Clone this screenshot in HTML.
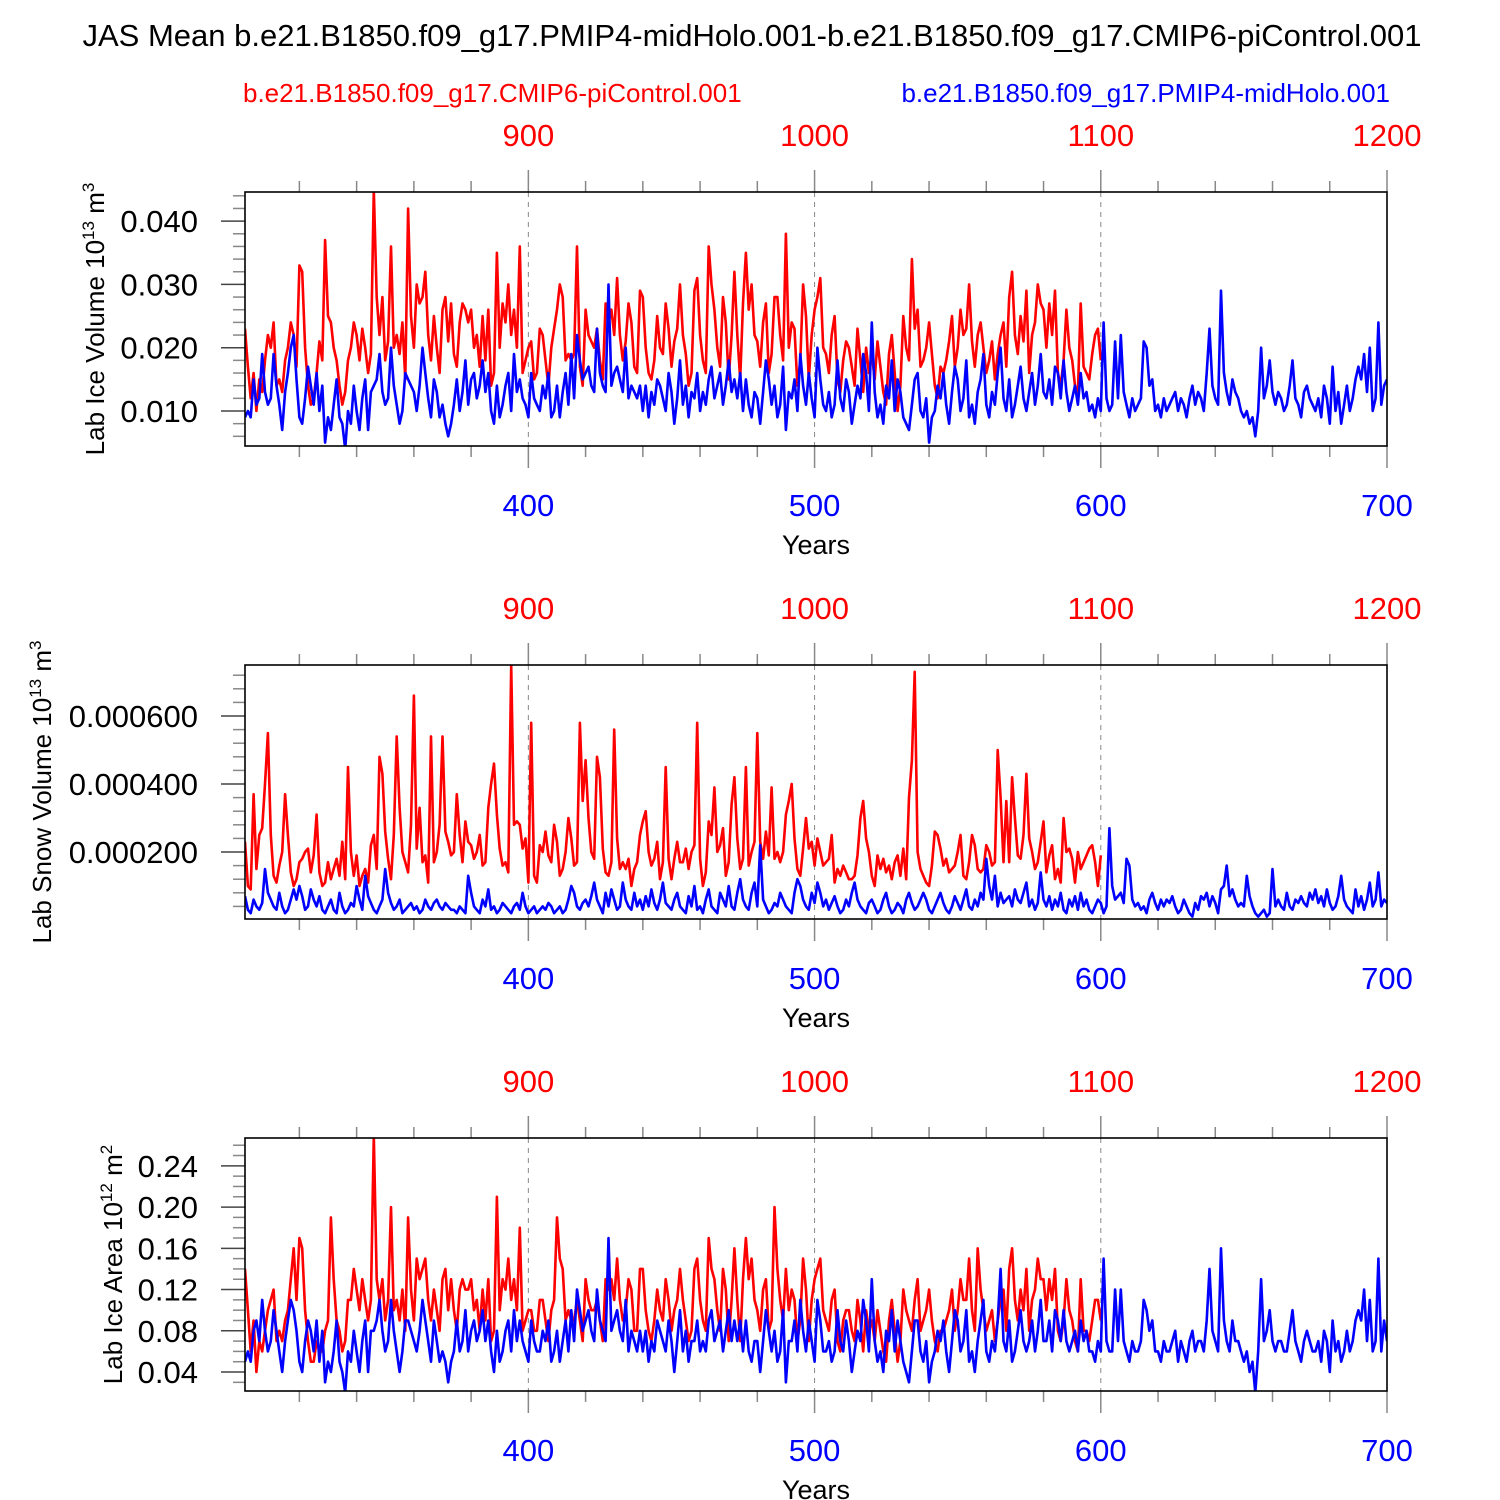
<!DOCTYPE html>
<html><head><meta charset="utf-8"><style>
html,body{margin:0;padding:0;background:#fff;}
svg{display:block;font-family:"Liberation Sans",Arial,sans-serif;}
</style></head><body>
<svg id="chart" width="1500" height="1500" viewBox="0 0 1500 1500" xmlns="http://www.w3.org/2000/svg">
<rect x="0" y="0" width="1500" height="1500" fill="#fff"/>
<text x="752" y="46" font-size="31" text-anchor="middle">JAS Mean b.e21.B1850.f09_g17.PMIP4-midHolo.001-b.e21.B1850.f09_g17.CMIP6-piControl.001</text>
<text x="243" y="102" font-size="26" fill="#ff0000">b.e21.B1850.f09_g17.CMIP6-piControl.001</text>
<text x="1390" y="102" font-size="26" fill="#0000ff" text-anchor="end">b.e21.B1850.f09_g17.PMIP4-midHolo.001</text>
</svg>
<script>
// Ice volume (units of 1e-3 ×1e13 m^3), blue years 301-700
const iceVolBlue=[9,10,9,15,11,12,19,13,11,12,19,14,11,7,13,16,20,22,15,9,
8,12,17,14,11,16,10,14,5,9,7,11,15,9,8,4,10,8,14,10,
7,12,15,7,13,14,15,19,13,11,12,20,14,11,8,10,16,15,14,13,
10,14,20,16,12,9,15,13,9,11,8,6,8,11,15,10,13,18,11,15,
16,12,14,18,13,16,10,8,14,9,11,14,16,10,19,13,15,12,11,9,
16,12,11,10,14,12,16,9,10,14,9,13,16,11,19,12,22,18,15,16,
17,14,13,23,16,14,13,30,14,16,17,15,13,20,12,14,13,12,14,10,
14,9,13,11,15,14,12,10,16,13,8,12,18,11,14,9,13,12,16,10,
13,11,15,17,12,14,16,11,14,18,13,15,12,16,10,15,11,9,13,12,
8,13,18,15,11,14,9,11,17,7,13,12,15,10,19,14,11,16,12,9,
20,15,11,10,13,9,11,18,12,10,15,13,8,11,14,12,19,16,10,24,
13,9,11,8,14,12,18,10,15,13,9,8,7,11,15,16,10,9,12,5,
9,10,14,12,16,11,8,13,17,15,10,12,18,9,11,8,13,15,19,11,
9,13,11,16,20,12,10,15,9,11,14,17,12,10,13,16,11,14,19,13,
12,15,11,17,16,12,18,13,10,12,14,11,16,12,13,10,11,9,12,10,
24,12,10,11,21,12,22,13,11,9,12,10,11,12,21,20,14,15,10,11,
9,12,10,11,12,13,10,12,11,9,12,14,11,13,12,10,16,23,14,12,
11,29,16,13,11,15,13,12,10,9,10,8,9,6,10,20,12,14,18,13,
11,13,12,10,11,14,18,12,11,9,13,14,12,11,10,12,9,14,12,8,
17,10,13,8,11,14,10,12,15,17,15,19,13,20,10,12,24,11,14,15];
// red years 801-1100
const iceVolRed=[23,17,12,16,10,15,13,18,22,20,24,14,15,13,18,20,24,22,17,33,
32,20,14,11,12,16,21,18,37,25,24,20,18,14,11,13,18,20,24,22,
18,23,20,16,19,45,28,22,28,18,21,36,20,22,19,24,15,42,25,20,
30,27,28,32,22,18,25,20,16,26,28,21,27,19,17,24,27,26,24,26,
20,22,17,25,18,26,14,16,35,20,27,24,30,22,26,20,36,16,18,20,
21,15,16,23,22,18,14,20,23,26,30,28,18,19,18,19,36,17,14,26,
22,21,20,23,18,15,27,24,26,22,31,22,18,21,27,24,17,16,29,28,
20,16,15,18,25,20,19,27,23,17,21,23,30,22,19,14,16,29,31,22,
18,16,36,30,26,20,17,28,24,15,22,32,22,15,27,35,26,30,22,21,
17,24,27,16,19,28,28,22,18,38,20,24,23,14,18,30,25,15,22,26,
28,31,20,19,16,22,25,15,13,18,21,20,17,14,23,18,13,20,16,19,
15,21,17,13,11,19,22,16,10,14,25,20,18,34,23,26,17,18,20,24,
19,14,12,17,16,18,21,25,17,20,26,22,23,30,21,17,22,24,20,16,
18,21,15,19,22,24,17,28,32,22,19,25,21,29,16,22,24,30,27,26,
20,27,22,29,16,14,18,26,20,18,14,13,27,17,16,15,19,22,23,18];
// Snow volume (units of 1e-6 ×1e13 m^3)
const snowVolBlue=[70,30,20,60,40,30,50,150,80,60,40,30,80,40,20,30,60,90,60,100,
70,30,40,90,60,40,70,30,20,40,60,30,20,80,40,20,30,50,40,100,
60,30,130,70,50,30,20,40,60,150,80,50,30,40,60,20,30,40,50,30,
40,20,30,60,40,30,50,60,40,30,50,40,30,30,20,40,30,20,130,80,
40,30,20,60,40,90,30,40,20,30,50,40,30,20,40,50,30,80,40,20,
30,40,20,30,40,30,50,40,20,30,40,20,30,60,100,80,40,30,50,60,
40,70,110,60,40,20,80,40,90,60,30,40,110,60,40,30,80,40,60,30,
70,40,90,50,30,60,110,50,40,30,60,80,40,30,20,70,40,100,30,40,
20,60,90,40,30,20,80,60,40,100,40,30,80,120,60,40,30,80,110,40,
220,60,40,20,30,50,40,80,60,40,30,20,80,120,100,60,40,30,80,50,
110,80,40,60,30,50,70,40,20,30,60,40,80,110,60,40,30,20,50,60,
40,20,30,60,80,40,20,30,50,40,20,60,80,50,30,40,60,80,60,30,
20,40,60,80,50,30,20,40,70,50,30,60,90,40,30,60,40,80,60,180,
100,60,130,40,80,50,60,70,40,90,60,50,80,110,40,60,30,50,140,60,
40,70,30,60,40,80,30,20,60,40,70,30,80,40,60,30,20,40,60,50,
20,40,270,100,60,70,80,50,180,160,60,40,50,30,40,20,60,80,50,30,
60,40,60,50,70,40,20,30,60,40,20,10,50,30,70,60,80,40,70,50,
20,90,100,160,70,90,60,40,50,40,130,70,40,20,10,20,30,10,20,150,
40,60,40,30,80,40,30,60,50,70,50,40,80,60,90,50,70,40,90,50,
30,40,70,130,60,40,30,20,90,40,70,30,60,110,40,60,140,40,60,50];
const snowVolRed=[230,100,90,370,150,250,270,400,550,250,130,110,160,200,370,250,140,100,120,170,
180,200,210,140,190,310,140,100,110,170,120,150,180,130,230,120,450,200,130,190,
100,130,150,110,220,250,150,480,430,260,180,120,250,540,330,200,170,140,280,660,
210,330,170,190,110,540,170,200,280,540,260,230,190,200,370,250,170,290,230,220,
180,200,250,160,170,330,400,460,310,210,160,170,140,750,280,290,280,210,240,110,
580,130,110,220,200,260,190,170,280,230,130,150,200,300,240,160,170,580,350,470,
300,200,180,480,420,210,140,130,170,560,240,150,170,150,180,100,150,170,250,290,
320,200,160,180,230,120,170,450,180,120,180,230,170,170,210,150,200,220,580,180,
100,140,290,250,390,200,220,270,130,170,340,420,240,150,180,450,160,200,230,550,
230,180,260,190,390,180,200,170,200,310,350,400,240,150,130,210,300,210,230,160,
240,200,160,170,180,250,110,150,130,160,140,120,120,130,190,300,350,240,200,130,
100,190,150,180,140,160,120,170,190,130,210,120,360,470,730,200,150,130,110,100,
160,260,250,210,160,180,140,150,160,200,250,130,120,170,250,220,150,140,150,220,
200,160,170,500,360,170,350,170,420,300,190,180,250,430,240,200,150,170,230,290,
140,190,220,120,150,110,300,200,210,180,110,200,150,170,190,210,220,170,100,190];
// Ice area (units of 1e-2 ×1e12 m^2)
const iceAreaBlue=[5,6,5,8,9,7,11,8,6,7,10,8,6,4,7,9,11,10,8,5,
4,7,9,8,6,9,5,8,3,5,4,6,9,5,4,2,6,5,8,6,
4,7,9,4,8,8,9,11,8,6,7,11,8,6,4,6,9,9,8,7,
6,8,11,9,7,5,9,7,5,6,5,3,5,6,9,6,7,10,6,8,
9,7,8,10,7,9,6,4,8,5,6,8,9,6,10,7,9,7,6,5,
9,7,6,6,8,7,9,5,6,8,5,7,9,6,10,7,12,10,8,9,
10,8,7,12,9,8,7,17,8,9,10,8,7,11,6,8,7,6,8,6,
8,5,7,6,9,8,7,6,9,7,4,7,10,6,8,5,7,7,9,6,
7,6,9,10,7,8,9,6,8,10,7,9,7,9,6,9,6,5,7,7,
4,7,10,8,6,8,5,6,10,3,7,7,9,6,11,8,6,9,7,5,
11,9,6,6,7,5,6,10,7,6,9,7,4,6,8,7,11,9,6,13,
7,5,6,4,8,7,10,6,9,7,5,4,3,6,9,9,6,5,7,3,
5,6,8,7,9,6,4,7,10,9,6,7,10,5,6,4,7,9,11,6,
5,7,6,9,14,7,6,9,5,6,8,10,7,6,7,9,6,8,11,7,
7,9,6,10,9,7,10,7,6,7,8,6,9,7,8,6,6,5,7,6,
15,7,6,6,12,7,12,7,6,5,7,6,6,7,11,10,8,9,6,6,
5,7,6,6,7,8,5,7,6,5,7,8,6,7,7,6,9,14,8,7,
6,16,9,7,6,9,7,7,6,5,6,4,5,2,6,13,7,8,10,7,
6,7,7,6,6,8,10,7,6,5,7,8,7,6,6,7,5,8,7,4,
9,6,7,5,6,8,6,7,9,10,9,12,7,11,6,7,15,6,9,7];
const iceAreaRed=[14,10,6,9,4,7,6,8,10,11,12,7,8,7,9,10,13,16,11,17,
16,10,7,5,5,7,6,6,8,9,19,13,9,8,6,7,11,11,14,12,
10,13,11,9,11,27,13,11,13,9,11,20,10,11,9,12,8,19,12,9,
15,13,14,15,11,9,12,10,8,13,14,10,13,10,8,12,13,12,12,13,
10,11,8,12,9,13,7,8,21,10,13,12,15,11,13,10,18,8,9,10,
10,8,8,11,11,9,7,10,11,19,15,14,9,10,9,9,11,9,7,13,
11,10,10,11,9,7,13,12,13,11,15,11,9,10,13,12,8,8,14,14,
10,8,7,9,12,10,9,13,11,8,10,11,14,11,9,7,8,14,15,11,
9,8,17,14,13,10,8,14,12,7,11,16,11,7,13,17,13,15,11,10,
8,12,13,8,9,20,14,11,9,14,10,12,11,7,9,15,12,7,11,13,
14,15,10,9,8,11,12,7,6,9,10,10,8,7,11,9,6,10,8,9,
7,10,8,6,5,9,11,8,5,7,12,10,9,8,11,13,8,9,10,12,
9,7,6,8,8,9,10,12,8,10,13,11,11,15,10,8,16,12,10,8,
9,10,7,9,11,12,8,14,16,11,9,12,10,14,8,11,12,15,13,13,
10,13,11,14,8,7,9,13,10,9,7,6,13,8,8,7,9,11,11,9];
const bottomTickLabels=["400","500","600","700"];
const topTickLabels=["900","1000","1100","1200"];
const iceVolTicks=["0.010","0.020","0.030","0.040"];
const snowVolTicks=["0.000200","0.000400","0.000600"];
const iceAreaTicks=["0.04","0.08","0.12","0.16","0.20","0.24"];

const NS="http://www.w3.org/2000/svg";
const svg=document.getElementById('chart');
const X0=245,X1=1387,B0=301,B1=700;
function xBlue(y){return X0+(y-B0)*(X1-X0)/(B1-B0);}
function xRed(y){return xBlue(y-500);}
function mk(tag,attrs,parent){const e=document.createElementNS(NS,tag);for(const k in attrs)e.setAttribute(k,attrs[k]);(parent||svg).appendChild(e);return e;}

function panel(idx,top,bot,yMin,yMax,scale,ticks,minor,blue,red,titleX,titleParts,name){
  const g=mk('g',{});
  
  
  const yS=v=>bot-(v-yMin)/(yMax-yMin)*(bot-top);
  const cp=mk('clipPath',{id:'clip'+idx},g);
  mk('rect',{x:X0,y:top,width:X1-X0,height:bot-top},cp);
  [400,500,600].forEach(v=>{
    const l=mk('line',{x1:xBlue(v),x2:xBlue(v),y1:top,y2:bot,stroke:'#888','stroke-width':1,'stroke-dasharray':'5,5'},g);
    
    
  });
  for(let v=Math.ceil(yMin/minor-1e-9)*minor;v<=yMax+1e-12;v+=minor){
    const isMaj=ticks.some(t=>Math.abs(parseFloat(t)-v)<minor/10);
    const y=yS(v);
    mk('line',{x1:X0-(isMaj?24:12),x2:X0,y1:y,y2:y,stroke:isMaj?'#444':'#888','stroke-width':1.5},g);
  }
  ticks.forEach(t=>{
    const y=yS(parseFloat(t));
    const tx=mk('text',{x:198,y:y+11,'font-size':31,'text-anchor':'end'},g);
    tx.textContent=t;
    
    
  });
  for(let v=320;v<=700;v+=20){
    const maj=v%100===0;const x=xBlue(v);
    mk('line',{x1:x,x2:x,y1:bot,y2:bot+(maj?22:11),stroke:'#888','stroke-width':1.5},g);
    mk('line',{x1:x,x2:x,y1:top,y2:top-(maj?22:11),stroke:'#888','stroke-width':1.5},g);
  }
  bottomTickLabels.forEach(t=>{
    const tx=mk('text',{x:xBlue(+t),y:bot+70,'font-size':31,'text-anchor':'middle',fill:'#0000ff'},g);
    tx.textContent=t;
    
    
  });
  topTickLabels.forEach(t=>{
    const tx=mk('text',{x:xRed(+t),y:top-46,'font-size':31,'text-anchor':'middle',fill:'#ff0000'},g);
    tx.textContent=t;
    
    
  });
  const xt=mk('text',{x:816,y:bot+108,'font-size':27,'text-anchor':'middle'},g);
  xt.textContent='Years';
  
  
  const cy=(top+bot)/2;
  const yt=mk('text',{transform:`translate(${titleX},${cy}) rotate(-90)`,'font-size':26,'text-anchor':'middle'},g);
  
  
  titleParts.forEach(p=>{const s=mk('tspan',p[1]?{'font-size':17,dy:-10}:{'font-size':26,dy:p[2]||0},yt);s.textContent=p[0];});
  const lg=mk('g',{'clip-path':`url(#clip${idx})`},g);
  let d='';red.forEach((v,i)=>{d+=(i?'L':'M')+xRed(801+i).toFixed(1)+','+yS(v*scale).toFixed(1);});
  const rp=mk('path',{d:d,fill:'none',stroke:'#ff0000','stroke-width':2.6,'stroke-linejoin':'round'},lg);
  
  
  d='';blue.forEach((v,i)=>{d+=(i?'L':'M')+xBlue(301+i).toFixed(1)+','+yS(v*scale).toFixed(1);});
  const bp=mk('path',{d:d,fill:'none',stroke:'#0000ff','stroke-width':2.6,'stroke-linejoin':'round'},lg);
  
  
  const fr=mk('rect',{x:X0,y:top,width:X1-X0,height:bot-top,fill:'none',stroke:'#000','stroke-width':1.6},g);
  
  
}
panel(1,192,446,0.00447,0.0446,1e-3,iceVolTicks,0.002,iceVolBlue,iceVolRed,104,[['Lab Ice Volume 10'],['13',1],[' m',0,10],['3',1]],'ice-volume');
panel(2,665,919,0.000003,0.00075,1e-6,snowVolTicks,0.00004,snowVolBlue,snowVolRed,51,[['Lab Snow Volume 10'],['13',1],[' m',0,10],['3',1]],'snow-volume');
panel(3,1138,1391,0.0216,0.267,1e-2,iceAreaTicks,0.01,iceAreaBlue,iceAreaRed,122,[['Lab Ice Area 10'],['12',1],[' m',0,10],['2',1]],'ice-area');
</script>
</body></html>
